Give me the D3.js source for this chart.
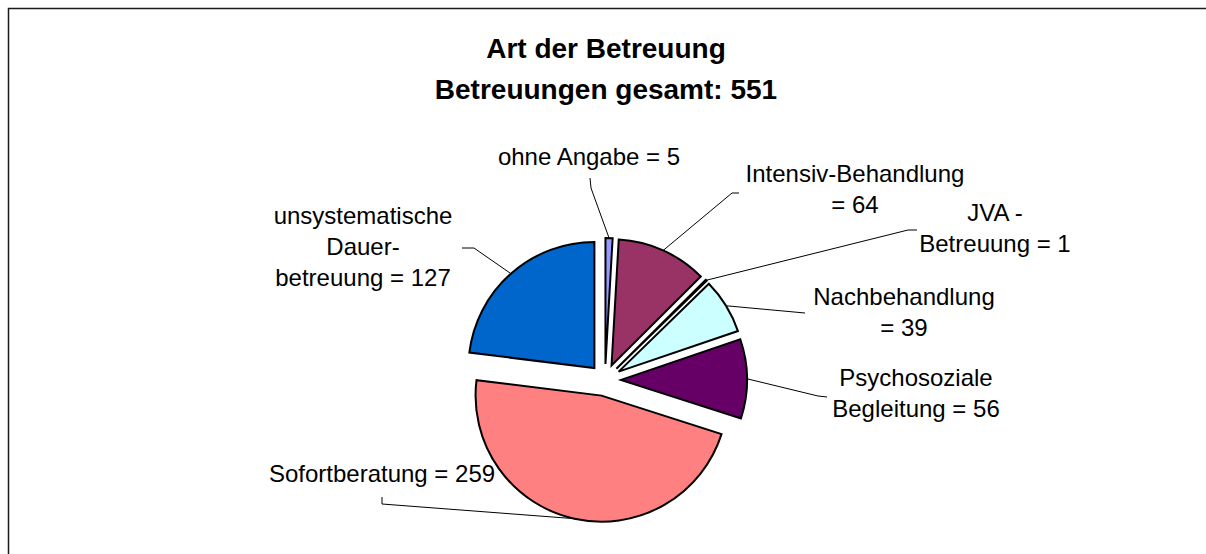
<!DOCTYPE html>
<html>
<head>
<meta charset="utf-8">
<script src="https://cdn.jsdelivr.net/npm/d3@7"></script>
<style>
  body { margin: 0; background: #fff; overflow: hidden; }
  svg { display: block; }
  text { font-family: "Liberation Sans", Arial, sans-serif; fill: #000; }
</style>
</head>
<body>
<div id="chart"></div>
<script>

var categories = ["ohne Angabe", "Intensiv-Behandlung", "JVA - Betreuung", "Nachbehandlung",
	"Psychosoziale Begleitung", "Sofortberatung", "unsystematische Dauerbetreuung"];
var values = [5, 64, 1, 39, 56, 259, 127];
// how the label text wraps, value gets added to the last line
var labelLines = [["ohne Angabe"], ["Intensiv-Behandlung", ""], ["JVA -", "Betreuung"], ["Nachbehandlung", ""],
	["Psychosoziale", "Begleitung"], ["Sofortberatung"], ["unsystematische", "Dauer-", "betreuung"]];
var colors = ["#9999FF", "#993366", "#FFFFCC", "#CCFFFF", "#660066", "#FF8080", "#0066CC"];
var titleLines = ["Art der Betreuung", "Betreuungen gesamt: " + d3.sum(values)];

// layout
var W = 1206, H = 554;
var cx = 605, cy = 380, r = 126, explode = 16;
var lineH = 31;
// label anchor (center x, first baseline) and the leader start points
var labelLayout = [
	{x: 589, y: 165, lead: [[590, 178], [591, 188]]},
	{x: 855, y: 182, lead: [[739, 193], [732, 193]]},
	{x: 995, y: 221, lead: [[917, 230], [908, 230]]},
	{x: 904, y: 305, lead: [[805, 313]]},
	{x: 916, y: 386, lead: [[827, 397], [818, 396]]},
	{x: 382, y: 482, lead: [[382, 497], [382, 504]]},
	{x: 363, y: 224, lead: [[462, 248], [474, 248]]}
];

var svg = d3.select("#chart").append("svg")
	.attr("width", W)
	.attr("height", H);

// chart frame, right and bottom edges are cut off
svg.append("path")
	.attr("d", "M8.5," + H + "V8.5H" + W)
	.style("fill", "none")
	.style("stroke", "#1a1a1a")
	.style("stroke-width", 1.5);

svg.selectAll("text.title")
	.data(titleLines)
	.enter().append("text")
	.attr("class", "title")
	.attr("x", 606)
	.attr("y", function(d, i) { return 58 + i * 41 })
	.attr("text-anchor", "middle")
	.style("font-weight", "bold")
	.style("font-size", "28px")
	.text(function(d) { return d });

var pie = d3.pie().sort(null).value(function(d) { return d });
var arc = d3.arc().innerRadius(0).outerRadius(r);
var slices = pie(values);

function midAngle(d) { return (d.startAngle + d.endAngle) / 2 }

svg.append("g")
	.attr("transform", "translate(" + cx + "," + cy + ")")
	.selectAll("path")
	.data(slices)
	.enter().append("path")
	.attr("d", arc)
	.attr("transform", function(d) {
		var a = midAngle(d);
		return "translate(" + (explode * Math.sin(a)) + "," + (-explode * Math.cos(a)) + ")";
	})
	.style("fill", function(d, i) { return colors[i] })
	.style("stroke", "#000")
	.style("stroke-width", 2)
	.style("stroke-linejoin", "miter");

// leader lines, ending on the middle of each slice's outer edge
var leader = d3.line();
svg.selectAll("path.leader")
	.data(slices)
	.enter().append("path")
	.attr("class", "leader")
	.attr("d", function(d, i) {
		var a = midAngle(d);
		var pts = labelLayout[i].lead.slice();
		pts.push([cx + (r + explode) * Math.sin(a), cy - (r + explode) * Math.cos(a)]);
		return leader(pts);
	})
	.style("fill", "none")
	.style("stroke", "#000")
	.style("stroke-width", 1);

var labels = svg.selectAll("g.label")
	.data(slices)
	.enter().append("g")
	.attr("class", "label");

labels.each(function(d, i) {
	var lines = labelLines[i].slice();
	var last = lines.length - 1;
	lines[last] = (lines[last] ? lines[last] + " " : "") + "= " + values[i];
	d3.select(this).selectAll("text")
		.data(lines)
		.enter().append("text")
		.attr("x", labelLayout[i].x)
		.attr("y", function(t, j) { return labelLayout[i].y + j * lineH })
		.attr("text-anchor", "middle")
		.style("font-size", "24px")
		.text(function(t) { return t });
});

</script>
</body>
</html>
